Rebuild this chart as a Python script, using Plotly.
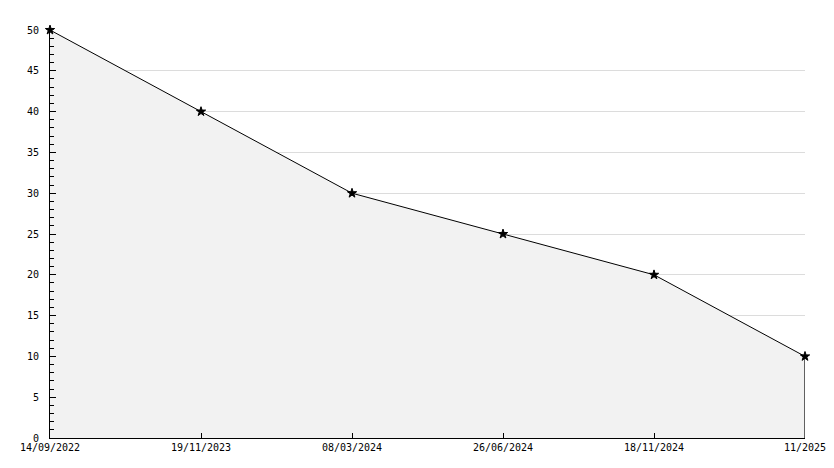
import plotly.graph_objects as go

dates = ["14/09/2022", "19/11/2023", "08/03/2024", "26/06/2024", "18/11/2024", "11/2025"]
values = [50, 40, 30, 25, 20, 10]

fig = go.Figure()
fig.add_trace(go.Scatter(
    x=dates, y=values, mode="lines+markers", fill="tozeroy",
    fillcolor="#f2f2f2",
    line=dict(color="black", width=1),
    marker=dict(symbol="star", size=7, color="black", line=dict(color="black", width=1)),
    hoverinfo="skip", showlegend=False, cliponaxis=False,
))
# closing edge of the filled area at the last point
fig.add_trace(go.Scatter(
    x=[dates[-1], dates[-1]], y=[values[-1], 0], mode="lines",
    line=dict(color="black", width=1.2), hoverinfo="skip", showlegend=False,
    cliponaxis=False,
))

font = dict(family="DejaVu Sans Mono", size=10, color="black")
fig.update_layout(
    width=834, height=468,
    margin=dict(l=50, r=29, t=30, b=30, autoexpand=False),
    paper_bgcolor="white", plot_bgcolor="white",
    font=font,
    xaxis=dict(
        type="category", range=[0, len(dates) - 1],
        showgrid=False, zeroline=False, automargin=False,
        showline=True, linecolor="black", linewidth=1,
        ticks="inside", ticklen=5, tickcolor="black",
        tickfont=font, ticklabelstandoff=0,
    ),
    yaxis=dict(
        range=[0, 50], dtick=5, tick0=0, automargin=False,
        showgrid=True, gridcolor="#dcdcdc", gridwidth=1,
        zeroline=False,
        showline=True, linecolor="black", linewidth=1,
        ticks="inside", ticklen=6, tickcolor="black",
        minor=dict(dtick=1, ticks="inside", ticklen=4, tickcolor="black", showgrid=False),
        tickfont=font, ticklabelstandoff=8,
    ),
)

fig.write_html(
    "out.html",
    config={"displayModeBar": False, "staticPlot": True},
    post_script="document.body.style.margin='0px';document.body.style.overflow='hidden';",
)
